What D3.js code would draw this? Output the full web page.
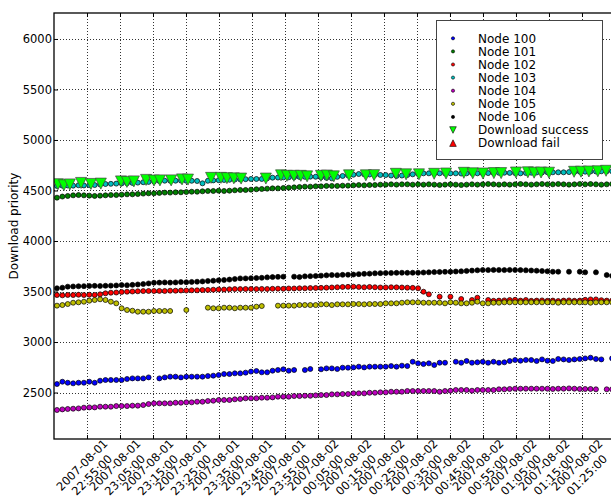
<!DOCTYPE html>
<html>
<head>
<meta charset="utf-8">
<script src="https://cdn.jsdelivr.net/npm/d3@7"></script>
<style>
body { margin: 0; background: #fff; }
svg { display: block; font-family: "DejaVu Sans", sans-serif; }
</style>
</head>
<body>
<svg id="chart" width="611" height="500"></svg>
<script>
// node logs are sampled every 98 s starting here
var sampleStart = "2007-08-01 22:45:54";
var sampleStep = 98;

var nodeNames = ["Node 100", "Node 101", "Node 102", "Node 103", "Node 104", "Node 105", "Node 106"];

var node100 = [
  2584, 2607, 2597, 2591, 2597, 2597, 2607, 2597, 2617, 2624,
  2624, 2624, 2624, 2634, 2640, 2640, 2640, 2650, null, 2640,
  2650, 2657, 2657, 2650, 2657, 2657, 2657, 2657, 2663, 2667,
  2673, 2683, 2683, 2690, 2690, 2697, 2707, 2713, 2700, 2700,
  2716, 2723, 2730, 2716, 2723, null, 2723, 2733, null, 2730,
  2739, 2739, 2733, 2746, 2746, 2749, 2756, 2749, 2756, 2756,
  2756, 2756, 2762, 2756, 2766, 2762, 2805, 2789, 2782, 2789,
  2772, 2795, 2795, null, 2805, 2795, 2812, 2795, 2799, 2805,
  2795, 2805, 2795, 2799, 2812, 2822, 2815, 2822, 2822, 2812,
  2828, 2815, 2812, 2832, 2828, 2822, 2828, 2832, 2838, 2845,
  2832, 2828, null, 2838
];
var node101 = [
  4429, 4440, 4446, 4452, 4455, 4452, 4449, 4446, 4449, 4452,
  4455, 4455, 4459, 4462, 4462, 4465, 4469, 4472, 4472, 4476,
  4479, 4479, 4482, 4482, 4485, 4488, 4488, 4492, 4495, 4495,
  4498, 4495, 4498, 4502, 4505, 4505, 4508, 4512, 4515, 4518,
  4521, 4521, 4525, 4528, 4531, 4535, 4538, 4538, 4541, 4541,
  4545, 4545, 4545, 4548, 4548, 4551, 4554, 4551, 4554, 4554,
  4558, 4558, 4561, 4558, 4561, 4561, 4558, 4561, 4558, 4561,
  4558, 4554, 4558, 4561, 4558, 4554, 4558, 4561, 4558, 4561,
  4564, 4561, 4558, 4561, 4558, 4561, 4564, 4561, 4558, 4561,
  4564, 4561, 4561, 4564, 4561, 4558, 4561, 4564, 4561, 4564,
  4561, 4558, 4561, 4564
];
var node102 = [
  3465, 3462, 3466, 3465, 3468, 3465, 3468, 3466, 3472, 3482,
  3488, 3490, 3495, 3498, 3500, 3502, 3504, 3505, 3505, 3506,
  3505, 3508, 3508, 3510, 3510, 3512, 3512, 3515, 3516, 3518,
  3520, 3520, 3522, 3524, 3524, 3525, 3525, 3524, 3526, 3525,
  3527, 3528, 3527, 3530, 3530, 3532, 3532, 3534, 3535, 3536,
  3538, 3540, 3542, 3545, 3546, 3548, 3545, 3542, 3545, 3542,
  3540, 3540, 3542, 3541, 3540, 3538, 3536, 3532, 3498, 3472,
  null, 3449, null, 3449, null, 3426, null, 3416, 3439, null,
  3416, 3408, 3410, 3412, 3416, 3418, 3410, 3416, 3408, 3410,
  3412, 3408, 3410, 3406, 3410, 3412, 3408, 3410, 3418, 3422,
  3422, 3414, 3410, 3410
];
var node103 = [
  4545, 4548, 4550, 4548, 4552, 4550, 4553, 4554, 4560, 4564,
  4566, 4568, 4570, 4572, 4575, 4578, 4582, 4585, 4590, 4594,
  4597, 4597, 4597, 4598, 4596, 4596, 4594, 4571, 4596, 4600,
  4602, 4604, 4606, 4608, 4610, 4612, 4614, 4614, 4614, 4620,
  4627, 4628, 4630, 4630, 4632, 4634, 4635, 4637, 4636, 4630,
  4625, 4620, 4635, 4644, 4650, 4656, 4663, 4660, 4658, 4655,
  4654, 4653, 4648, 4644, 4648, 4653, 4660, 4665, 4670, 4670,
  4668, 4670, 4670, 4670, 4670, 4668, 4670, 4672, 4670, 4670,
  4672, 4674, 4675, 4676, 4674, 4672, 4670, 4674, 4676, 4678,
  4678, 4680, 4680, 4680, 4680, 4682, 4684, 4686, 4686, 4688,
  4688, 4690, 4690, 4690
];
var node104 = [
  2327, 2333, 2337, 2340, 2343, 2350, 2353, 2353, 2360, 2360,
  2360, 2366, 2366, 2366, 2370, 2370, 2376, 2386, 2393, 2393,
  2393, 2393, 2399, 2399, 2403, 2403, 2409, 2409, 2416, 2419,
  2426, 2426, 2426, 2433, 2436, 2443, 2443, 2443, 2449, 2449,
  2452, 2459, 2459, 2459, 2465, 2465, 2468, 2468, 2472, 2475,
  2475, 2482, 2482, 2485, 2485, 2492, 2492, 2492, 2498, 2498,
  2502, 2502, 2508, 2508, 2508, 2515, 2515, 2515, 2515, 2515,
  2515, 2508, 2515, 2518, 2525, 2525, 2525, 2518, 2525, 2525,
  2525, 2525, 2532, 2532, 2535, 2538, 2538, 2538, 2538, 2538,
  2538, 2538, 2535, 2538, 2538, 2541, 2538, 2535, 2535, 2535,
  2532, null, 2532, 2532
];
var node105 = [
  3360, 3366, 3376, 3389, 3393, 3399, 3409, 3416, 3423, 3416,
  3399, 3383, 3334, 3317, 3310, 3300, 3300, 3300, 3307, 3307,
  3307, 3307, null, null, 3317, null, null, null, 3340, 3334,
  3334, 3340, 3340, 3334, 3340, 3340, 3340, 3350, 3356, null,
  null, 3360, 3360, 3360, 3360, 3366, 3366, 3366, 3366, 3373,
  3373, 3366, 3373, 3373, 3373, 3376, 3376, 3373, 3376, 3376,
  3376, 3383, 3383, 3383, 3389, 3393, 3393, 3393, 3389, 3389,
  3389, 3389, 3383, 3393, 3389, 3383, 3383, 3389, 3399, 3383,
  3383, 3389, 3389, 3393, 3393, 3393, 3393, 3393, 3393, 3393,
  3393, 3393, 3393, 3389, 3393, 3393, 3393, 3393, 3393, 3389,
  3393, 3393, 3393, 3393
];
var node106 = [
  3532, 3538, 3548, 3550, 3552, 3553, 3555, 3556, 3555, 3557,
  3558, 3560, 3564, 3562, 3566, 3570, 3574, 3580, 3587, 3588,
  3590, 3588, 3590, 3593, 3592, 3595, 3597, 3600, 3604, 3607,
  3611, 3614, 3618, 3624, 3630, 3630, 3632, 3634, 3636, 3640,
  3643, 3645, 3647, null, 3647, 3643, 3650, 3652, 3654, 3657,
  3660, 3663, 3662, 3665, 3666, 3668, 3672, 3675, 3677, 3680,
  3682, 3683, 3684, 3685, 3686, 3685, 3686, 3686, 3688, 3690,
  3692, 3694, 3695, 3696, 3698, 3700, 3704, 3707, 3710, 3713,
  3712, 3714, 3713, 3712, 3714, 3713, 3712, 3710, 3708, 3706,
  3703, 3700, 3696, 3696, null, 3696, null, 3696, 3690, null,
  3690, null, 3663, 3655
];

// download events (clock time, priority)
var successTimes = [
  "22:46:12", "22:48:00", "22:49:48", "22:53:12", "22:56:12", "22:59:12",
  "23:05:18", "23:07:06", "23:09:12", "23:12:54", "23:15:18", "23:17:06", "23:20:30", "23:23:48", "23:25:36",
  "23:32:36", "23:35:36", "23:37:24", "23:39:30", "23:41:42",
  "23:49:12",
  "23:53:48", "23:55:36", "23:57:42", "23:59:48", "00:01:42",
  "00:05:54", "00:07:42", "00:09:48", "00:14:24",
  "00:19:30", "00:22:00",
  "00:28:36", "00:31:42",
  "00:35:36", "00:40:12", "00:43:48",
  "00:49:12", "00:51:54", "00:55:00",
  "00:58:18", "01:00:30",
  "01:05:00",
  "01:08:36", "01:10:30", "01:12:36", "01:15:00",
  "01:22:36", "01:24:42", "01:27:06", "01:29:48", "01:32:18"
];
var successPrio = [
  4562, 4552, 4560, 4575, 4565, 4568,
  4590, 4585, 4590, 4605, 4598, 4600, 4600, 4610, 4608,
  4625, 4625, 4622, 4620, 4618,
  4618,
  4650, 4645, 4645, 4645, 4640,
  4645, 4648, 4640, 4650,
  4650, 4652,
  4665, 4660,
  4660, 4665, 4668,
  4675, 4670, 4668,
  4672, 4672,
  4678,
  4680, 4676, 4678, 4676,
  4685, 4686, 4688, 4690, 4695
];
var failTimes = [];
var failPrio = [];

var yTicks = [2500, 3000, 3500, 4000, 4500, 5000, 5500, 6000];
var xTicks = [
  "2007-08-01 22:55:00", "2007-08-01 23:05:00", "2007-08-01 23:15:00", "2007-08-01 23:25:00",
  "2007-08-01 23:35:00", "2007-08-01 23:45:00", "2007-08-01 23:55:00", "2007-08-02 00:05:00",
  "2007-08-02 00:15:00", "2007-08-02 00:25:00", "2007-08-02 00:35:00", "2007-08-02 00:45:00",
  "2007-08-02 00:55:00", "2007-08-02 01:05:00", "2007-08-02 01:15:00", "2007-08-02 01:25:00"
];

var nodeColors = ["#0000ff", "#008000", "#ff0000", "#00bfbf", "#bf00bf", "#bfbf00", "#000000"];

var parseFull = d3.timeParse("%Y-%m-%d %H:%M:%S");
function parseClock(s) {
  // the log runs past midnight
  return parseFull((+s.slice(0, 2) < 12 ? "2007-08-02 " : "2007-08-01 ") + s);
}
var t0 = parseFull(sampleStart);
function toPoints(values) {
  var pts = [];
  values.forEach(function(v, i) {
    if (v != null) pts.push({time: new Date(t0.getTime() + i * sampleStep * 1000), prio: v});
  });
  return pts;
}

var svg = d3.select("#chart"),
    box = {left: 54, right: 612, top: 13, bottom: 439};

var x = d3.scaleTime()
    .domain([parseFull("2007-08-01 22:45:00"), parseFull("2007-08-02 01:34:06")])
    .range([box.left, box.right]);
var y = d3.scaleLinear().domain([2040, 6257]).range([box.bottom, box.top]);

svg.append("defs").append("clipPath").attr("id", "plot")
  .append("rect").attr("x", box.left).attr("y", box.top)
  .attr("width", box.right - box.left).attr("height", box.bottom - box.top);

var tickDates = xTicks.map(parseFull);

// grid
var grid = svg.append("g").attr("stroke", "#000").attr("stroke-width", 0.8)
    .attr("stroke-dasharray", "1,2").attr("shape-rendering", "crispEdges");
grid.selectAll(".gx").data(tickDates).enter().append("line")
    .attr("x1", function(d) { return Math.round(x(d)) + 0.5; })
    .attr("x2", function(d) { return Math.round(x(d)) + 0.5; })
    .attr("y1", box.top).attr("y2", box.bottom);
grid.selectAll(".gy").data(yTicks).enter().append("line")
    .attr("y1", function(d) { return Math.round(y(d)) + 0.5; })
    .attr("y2", function(d) { return Math.round(y(d)) + 0.5; })
    .attr("x1", box.left).attr("x2", box.right);

// data
var plot = svg.append("g").attr("clip-path", "url(#plot)");
[node100, node101, node102, node103, node104, node105, node106].forEach(function(series, k) {
  plot.append("g").selectAll("circle")
    .data(toPoints(series))
    .enter().append("circle")
      .attr("cx", function(d) { return x(d.time); })
      .attr("cy", function(d) { return y(d.prio); })
      .attr("r", 2.5)
      .attr("fill", nodeColors[k])
      .attr("stroke", "#000")
      .attr("stroke-width", 0.7);
});

function tri(r, down) {
  var s = down ? 1 : -1;
  return "M0," + (s * r) + "L" + (-r) + "," + (-s * r) + "L" + r + "," + (-s * r) + "Z";
}

var events = successTimes.map(function(t, i) { return {time: parseClock(t), prio: successPrio[i]}; });
plot.append("g").selectAll("path")
  .data(events)
  .enter().append("path")
    .attr("transform", function(d) { return "translate(" + x(d.time) + "," + y(d.prio) + ")"; })
    .attr("d", tri(5.5, true))
    .attr("fill", "#00ff00")
    .attr("stroke", "#444")
    .attr("stroke-width", 0.7);

var fails = failTimes.map(function(t, i) { return {time: parseClock(t), prio: failPrio[i]}; });
plot.append("g").selectAll("path")
  .data(fails)
  .enter().append("path")
    .attr("transform", function(d) { return "translate(" + x(d.time) + "," + y(d.prio) + ")"; })
    .attr("d", tri(5.5, false))
    .attr("fill", "#ff0000")
    .attr("stroke", "#444")
    .attr("stroke-width", 0.7);

// axes, ticks inside
svg.append("g")
  .attr("transform", "translate(0," + box.bottom + ")")
  .call(d3.axisBottom(x).tickValues(tickDates).tickSize(-4).tickFormat(""))
  .call(function(g) { g.select(".domain").remove(); });
svg.append("g")
  .attr("transform", "translate(0," + box.top + ")")
  .call(d3.axisTop(x).tickValues(tickDates).tickSize(-4).tickFormat(""))
  .call(function(g) { g.select(".domain").remove(); });
svg.append("g")
  .attr("transform", "translate(" + box.left + ",0)")
  .call(d3.axisLeft(y).tickValues(yTicks).tickSize(-4).tickPadding(2).tickFormat(d3.format("d")))
  .call(function(g) {
    g.select(".domain").remove();
    g.selectAll("text").style("font", "11.5px 'DejaVu Sans'").attr("fill", "#000");
  });

svg.append("rect")
  .attr("x", box.left).attr("y", box.top)
  .attr("width", box.right - box.left).attr("height", box.bottom - box.top)
  .attr("fill", "none").attr("stroke", "#000").attr("stroke-width", 1.3);

// rotated two-line date labels
var fmtDay = d3.timeFormat("%Y-%m-%d"), fmtClock = d3.timeFormat("%H:%M:%S");
var lab = svg.append("g").style("font", "11.5px 'DejaVu Sans'")
  .selectAll("g").data(tickDates).enter().append("g")
    .attr("transform", function(d) { return "translate(" + x(d) + ",470) rotate(-45)"; });
lab.append("text").attr("text-anchor", "middle").attr("y", -7).attr("dy", "0.35em").text(fmtDay);
lab.append("text").attr("text-anchor", "middle").attr("y", 7).attr("dy", "0.35em").text(fmtClock);

svg.append("text")
  .attr("transform", "translate(14," + ((box.top + box.bottom) / 2) + ") rotate(-90)")
  .attr("text-anchor", "middle")
  .attr("dy", "0.35em")
  .style("font", "12px 'DejaVu Sans'")
  .text("Download priority");

// legend
var legend = svg.append("g");
legend.append("rect")
  .attr("x", 436.5).attr("y", 20.5).attr("width", 166).attr("height", 139)
  .attr("fill", "#fff").attr("stroke", "#444").attr("stroke-width", 1);
var rowY = function(i) { return 38.3 + i * 13.1; };
nodeNames.forEach(function(name, i) {
  legend.append("circle").attr("cx", 453).attr("cy", rowY(i)).attr("r", 1.6)
    .attr("fill", nodeColors[i]).attr("stroke", "#000").attr("stroke-width", 0.6);
  legend.append("text").attr("x", 478).attr("y", rowY(i)).attr("dy", "0.35em")
    .style("font", "12px 'DejaVu Sans'").text(name);
});
legend.append("path").attr("transform", "translate(453," + rowY(7) + ")").attr("d", tri(3.3, true))
  .attr("fill", "#00ff00").attr("stroke", "#000").attr("stroke-width", 0.6);
legend.append("text").attr("x", 478).attr("y", rowY(7)).attr("dy", "0.35em")
  .style("font", "12px 'DejaVu Sans'").text("Download success");
legend.append("path").attr("transform", "translate(453," + rowY(8) + ")").attr("d", tri(3.3, false))
  .attr("fill", "#ff0000").attr("stroke", "#000").attr("stroke-width", 0.6);
legend.append("text").attr("x", 478).attr("y", rowY(8)).attr("dy", "0.35em")
  .style("font", "12px 'DejaVu Sans'").text("Download fail");
</script>
</body>
</html>
